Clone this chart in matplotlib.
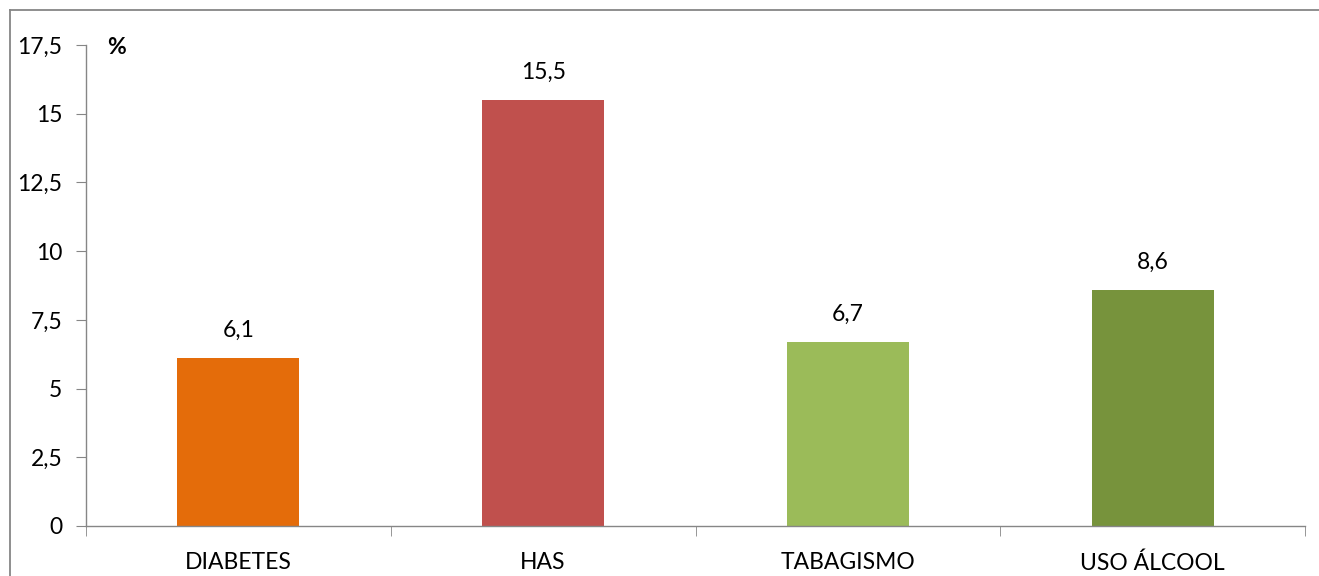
import matplotlib
matplotlib.use("Agg")
import matplotlib.pyplot as plt
from matplotlib.lines import Line2D
from matplotlib.ticker import FixedLocator, FuncFormatter

categories = ["DIABETES", "HAS", "TABAGISMO", "USO ÁLCOOL"]
values = [6.1, 15.5, 6.7, 8.6]
colors = ["#E46C0A", "#C0504D", "#9BBB59", "#77933C"]
yticks = [0, 2.5, 5, 7.5, 10, 12.5, 15, 17.5]

plt.rcParams["font.family"] = ["Lato", "DejaVu Sans"]
GRAY = "#868686"
FS = 16.5

W, H = 1319, 576
fig = plt.figure(figsize=(W / 100, H / 100), dpi=100)
fig.patch.set_facecolor("white")

# outer chart frame (left and top edges)
fig.add_artist(Line2D([10 / W, 10 / W], [0, 1 - 10 / H], transform=fig.transFigure,
                      color=GRAY, lw=1.3))
fig.add_artist(Line2D([10 / W, 1], [1 - 10 / H, 1 - 10 / H], transform=fig.transFigure,
                      color=GRAY, lw=1.3))

ax = fig.add_axes([86 / W, 1 - 526 / H, (1305 - 86) / W, (526 - 45) / H])
x = range(len(categories))
ax.bar(x, values, width=0.4, color=colors, zorder=2)

ax.set_xlim(-0.5, len(categories) - 0.5)
ax.set_ylim(0, 17.5)

fmt = lambda v: f"{v:g}".replace(".", ",")
ax.yaxis.set_major_locator(FixedLocator(yticks))
ax.yaxis.set_major_formatter(FuncFormatter(lambda v, p: fmt(v)))
ax.tick_params(axis="y", length=7, color=GRAY, labelsize=FS, pad=10)

ax.set_xticks(list(x))
ax.set_xticklabels(categories)
ax.tick_params(axis="x", which="major", length=0, labelsize=FS, pad=19)
ax.set_xticks([i - 0.5 for i in range(len(categories) + 1)], minor=True)
ax.tick_params(axis="x", which="minor", length=7, color=GRAY)

for s in ["top", "right"]:
    ax.spines[s].set_visible(False)
for s in ["left", "bottom"]:
    ax.spines[s].set_color(GRAY)
    ax.spines[s].set_linewidth(1.0)

for i, v in enumerate(values):
    ax.annotate(fmt(v), (i, v), xytext=(0, 20), textcoords="offset points",
                ha="center", va="center", fontsize=FS, color="black")

ax.text(107 / W, 1 - 48 / H, "%", transform=fig.transFigure, fontsize=16.5,
        fontweight="bold", ha="left", va="center")

fig.savefig("out.png", dpi=100, facecolor="white")
